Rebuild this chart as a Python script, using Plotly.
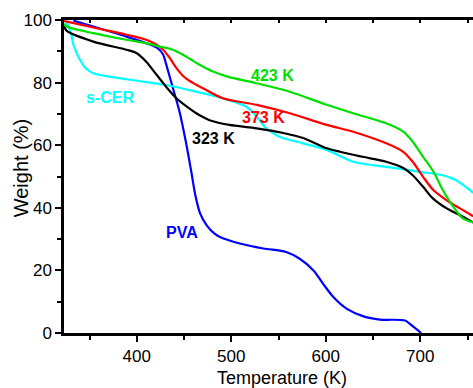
import plotly.graph_objects as go

# ---- data ----
T_323 = [323, 326, 354, 389, 400, 410, 421, 431, 442, 453, 463, 477, 498, 527, 555, 576, 601, 615, 639, 664, 682, 692, 703, 713, 728, 742, 756]
W_323 = [98, 96.5, 93.1, 90.5, 89.4, 86.7, 82.5, 78.7, 75, 72.3, 70.2, 68, 66.5, 65.4, 63.9, 62.3, 59, 57.9, 56.3, 54.7, 52.7, 50.4, 46.7, 43.1, 39.8, 37.6, 35.3]

T_373 = [323, 326, 354, 389, 410, 421, 428, 435, 442, 449, 456, 463, 470, 491, 527, 562, 601, 629, 664, 682, 692, 703, 714, 728, 742, 756]
W_373 = [99.7, 99.5, 97.6, 95.3, 93.7, 92.1, 90.5, 87.8, 84.6, 82.1, 80.5, 79.3, 78.2, 75, 72.9, 70.2, 66.5, 64.3, 60.6, 57.9, 54.7, 49.9, 45.6, 42.4, 39.8, 37.3]

T_423 = [323, 326, 354, 389, 410, 424, 435, 446, 456, 467, 480, 496, 527, 562, 601, 629, 664, 682, 692, 703, 714, 724, 735, 745, 756]
W_423 = [98.8, 97.9, 95.8, 93.7, 92.6, 91.5, 90.8, 89.4, 87.6, 85.6, 83.6, 81.9, 79.8, 77.1, 72.9, 70.2, 67, 64.3, 61.1, 56.3, 51.5, 45.6, 40.3, 36.6, 35.3]

T_cer = [323, 325, 330, 333, 339, 346, 354, 371, 407, 435, 463, 491, 516, 527, 537, 551, 576, 601, 629, 664, 700, 724, 738, 756]
W_cer = [100, 99.5, 96.3, 92.1, 87.8, 84.6, 83, 81.9, 80.3, 79, 77.1, 75, 72.3, 69.1, 65.4, 62.7, 60.6, 58.5, 54.7, 53.1, 51.5, 50.4, 48.8, 44.8]

T_pva = [333, 354, 389, 410, 422, 428, 431, 438, 445, 452, 458, 462, 467, 474, 482, 488, 509, 534, 558, 572, 587, 597, 608, 622, 640, 657, 684, 689, 701]
W_pva = [99.8, 97.9, 94.7, 92.6, 91, 88.9, 86, 78.5, 71, 61, 51, 44, 38.2, 34.4, 31.8, 30.7, 28.6, 27, 25.9, 23.8, 20, 15.8, 11.5, 7.8, 5.3, 4.3, 4, 2.9, 0]

series_names = ["323 K", "373 K", "423 K", "s-CER", "PVA"]
series_T = [T_323, T_373, T_423, T_cer, T_pva]
series_W = [W_323, W_373, W_423, W_cer, W_pva]
colors = ["#000000", "#ff0000", "#00e000", "#00ffff", "#0000ff"]

label_text = ["323 K", "373 K", "423 K", "s-CER", "PVA"]
label_T = [481.5, 534.4, 543.9, 371.4, 447.6]
label_W = [62.3, 68.7, 82.2, 75.4, 32.2]

x_ticks = [400, 500, 600, 700]
y_ticks = [0, 20, 40, 60, 80, 100]

FONT = "Arial, Liberation Sans, sans-serif"

fig = go.Figure()
order = [4, 3, 0, 1, 2]
for i in order:
    fig.add_trace(go.Scatter(
        x=series_T[i], y=series_W[i], mode="lines", name=series_names[i],
        line=dict(color=colors[i], width=2.2, shape="spline", smoothing=0.8),
        showlegend=False, hoverinfo="skip"))

# invisible trace on the top axis so it is drawn
fig.add_trace(go.Scatter(x=[T_323[0]], y=[W_323[0]], xaxis="x2", mode="lines",
                         line=dict(color="rgba(0,0,0,0)"), showlegend=False, hoverinfo="skip"))

for t, x, y, c in zip(label_text, label_T, label_W, colors):
    fig.add_annotation(x=x, y=y, text="<b>%s</b>" % t, showarrow=False,
                       font=dict(family=FONT, size=16, color=c), xanchor="center", yanchor="middle")

fig.add_annotation(xref="paper", yref="paper", x=0.533, y=-0.145, text="Temperature (K)",
                   showarrow=False, font=dict(family=FONT, size=18, color="black"),
                   xanchor="center", yanchor="middle")
fig.add_annotation(xref="paper", yref="paper", x=-0.103, y=0.529, text="Weight (%)",
                   showarrow=False, font=dict(family=FONT, size=20, color="black"),
                   xanchor="center", yanchor="middle", textangle=-90)

fig.update_layout(
    width=473, height=388,
    margin=dict(l=64, r=0, t=20, b=55),
    paper_bgcolor="white", plot_bgcolor="white",
    font=dict(family=FONT, size=17, color="black"),
    xaxis=dict(range=[323, 755.8], tickvals=x_ticks, showgrid=False, zeroline=False,
               showline=True, linecolor="black", linewidth=2.5,
               ticks="outside", ticklen=6, tickwidth=2, tickcolor="black",
               minor=dict(tickvals=[350, 450, 550, 650, 750], ticks="outside", ticklen=4, tickwidth=2, tickcolor="black"),
               tickfont=dict(size=17)),
    xaxis2=dict(range=[323, 755.8], overlaying="x", side="top", anchor="y",
                showgrid=False, zeroline=False, showline=True, linecolor="black", linewidth=2.5,
                ticks="inside", ticklen=3, tickwidth=1.5, tickcolor="black", dtick=50, tick0=0,
                showticklabels=False),
    yaxis=dict(range=[0, 100], tickvals=y_ticks, showgrid=False, zeroline=False,
               showline=True, linecolor="black", linewidth=2.5,
               ticks="outside", ticklen=6, tickwidth=2, tickcolor="black",
               minor=dict(tickvals=[10, 30, 50, 70, 90], ticks="outside", ticklen=4, tickwidth=2, tickcolor="black"),
               tickfont=dict(size=17)),
)

fig.write_html("out.html", config={"displayModeBar": False},
               post_script="document.body.style.margin='0';document.body.style.padding='0';")
